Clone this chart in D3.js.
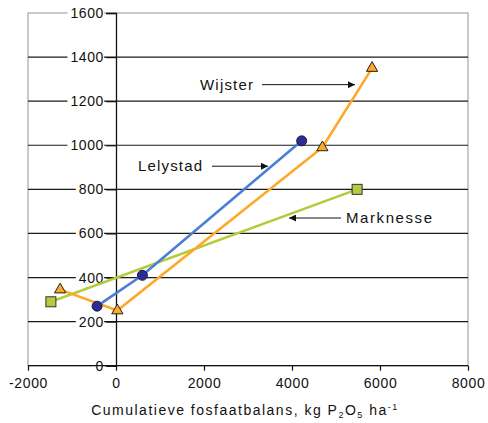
<!DOCTYPE html>
<html><head><meta charset="utf-8">
<script src="https://cdn.jsdelivr.net/npm/d3@7"></script>
<style>
html,body{margin:0;padding:0;background:#fff;}
svg{display:block;font-family:"Liberation Sans",Arial,sans-serif;}
</style></head>
<body><svg id="c" width="488" height="423"></svg>
<script>
// ---- data ----
const xTicks = [-2000, 0, 2000, 4000, 6000, 8000];
const yTicks = [0, 200, 400, 600, 800, 1000, 1200, 1400, 1600];
const lelystadX = [-430, 600, 4220];
const lelystadY = [270, 410, 1020];
const wijsterX = [-1270, 30, 4690, 5820];
const wijsterY = [345, 250, 990, 1350];
const marknesseX = [-1480, 5480];
const marknesseY = [290, 800];
const seriesNames = ["Lelystad", "Wijster", "Marknesse"];
// annotations (data coords): label text range and arrow from/to
const annotNames = ["Wijster", "Lelystad", "Marknesse"];
const annotTextX0 = [1909, 500, 5227];
const annotTextX1 = [3114, 1955, 7182];
const annotY = [1275, 905, 670];
const arrowFromX = [3318, 2182, 5114];
const arrowToX = [5432, 3455, 3932];

const svg = d3.select("#c");
const x = d3.scaleLinear().domain([-2000, 8000]).range([28, 468]);
const y = d3.scaleLinear().domain([0, 1600]).range([365.7, 13]);

// border (grey)
svg.append("rect").attr("x", x(-2000)).attr("y", y(1600))
  .attr("width", x(8000) - x(-2000)).attr("height", y(0) - y(1600))
  .attr("fill", "none").attr("stroke", "#a8a4a0").attr("stroke-width", 1.2);

// gridlines
svg.append("g").selectAll("line").data(yTicks.filter(d => d > 0 && d < 1600)).join("line")
  .attr("x1", x(-2000)).attr("x2", x(8000))
  .attr("y1", d => y(d)).attr("y2", d => y(d))
  .attr("stroke", "#1a1a1a").attr("stroke-width", 1.2);

// y axis at x=0
const yAxis = d3.axisLeft(y).tickValues(yTicks).tickSize(10).tickPadding(2).tickFormat(d => String(d));
const yg = svg.append("g").attr("transform", `translate(${x(0)},0)`).call(yAxis);
yg.select(".domain").attr("stroke", "#111").attr("stroke-width", 1.3);
yg.selectAll(".tick line").attr("stroke", "#111").attr("stroke-width", 1.2);
yg.selectAll(".tick text").attr("font-size", 14).attr("fill", "#111")
  .attr("font-family", "Liberation Sans, Arial, sans-serif").style("letter-spacing", "0.6px");
// white background behind y labels
yg.selectAll(".tick").each(function() {
  const t = d3.select(this).select("text");
  const b = t.node().getBBox();
  d3.select(this).insert("rect", "text")
    .attr("x", b.x - 3).attr("y", b.y + 2).attr("width", b.width + 3).attr("height", b.height - 4)
    .attr("fill", "#fff");
});

// x axis
const xAxis = d3.axisBottom(x).tickValues(xTicks).tickSize(5).tickPadding(7).tickFormat(d => String(d));
const xg = svg.append("g").attr("transform", `translate(0,${y(0)})`).call(xAxis);
xg.select(".domain").attr("stroke", "#111").attr("stroke-width", 1.3).attr("d", `M${x(-2000)},0H${x(8000)}`);
xg.selectAll(".tick line").attr("stroke", "#111").attr("stroke-width", 1.2);
xg.selectAll(".tick text").attr("font-size", 14).attr("fill", "#111")
  .attr("font-family", "Liberation Sans, Arial, sans-serif").style("letter-spacing", "0.6px");

// x axis title
const title = svg.append("text").attr("x", 245).attr("y", 415).attr("text-anchor", "middle")
  .attr("font-size", 14).attr("fill", "#111").style("letter-spacing", "1.5px");
title.append("tspan").text("Cumulatieve fosfaatbalans, kg P");
title.append("tspan").attr("font-size", 9).attr("dy", 3).text("2");
title.append("tspan").attr("dy", -3).text("O");
title.append("tspan").attr("font-size", 9).attr("dy", 3).text("5");
title.append("tspan").attr("dy", -3).text(" ha");
title.append("tspan").attr("font-size", 9).attr("dy", -5).text("-1");

// series
const line = d3.line().x(d => x(d[0])).y(d => y(d[1]));
const lely = lelystadX.map((v, i) => [v, lelystadY[i]]);
const wijs = wijsterX.map((v, i) => [v, wijsterY[i]]);
const mark = marknesseX.map((v, i) => [v, marknesseY[i]]);

svg.append("path").datum(mark).attr("d", line).attr("fill", "none").attr("stroke", "#b4cc3a").attr("stroke-width", 2.6);
svg.append("path").datum(lely).attr("d", line).attr("fill", "none").attr("stroke", "#4a7ed4").attr("stroke-width", 2.6);
svg.append("path").datum(wijs).attr("d", line).attr("fill", "none").attr("stroke", "#ffa726").attr("stroke-width", 2.6);

// markers
svg.append("g").selectAll("rect").data(mark).join("rect")
  .attr("x", d => x(d[0]) - 5).attr("y", d => y(d[1]) - 5).attr("width", 10).attr("height", 10)
  .attr("fill", "#b8c840").attr("stroke", "#333").attr("stroke-width", 1);
svg.append("g").selectAll("circle").data(lely).join("circle")
  .attr("cx", d => x(d[0])).attr("cy", d => y(d[1])).attr("r", 5)
  .attr("fill", "#2b2e90").attr("stroke", "#1a1a50").attr("stroke-width", 1);
const tri = d3.symbol().type(d3.symbolTriangle).size(55);
svg.append("g").selectAll("path").data(wijs).join("path")
  .attr("transform", d => `translate(${x(d[0])},${y(d[1])})`).attr("d", tri)
  .attr("fill", "#ffa726").attr("stroke", "#222").attr("stroke-width", 1);

// annotations
const defs = svg.append("defs");
defs.append("marker").attr("id", "ah").attr("viewBox", "0 0 10 10").attr("refX", 10).attr("refY", 5)
  .attr("markerWidth", 10).attr("markerHeight", 7).attr("markerUnits", "userSpaceOnUse").attr("orient", "auto")
  .append("path").attr("d", "M0,0L10,5L0,10z").attr("fill", "#111");
annotNames.forEach((n, i) => {
  svg.append("text").attr("x", x(annotTextX0[i])).attr("y", y(annotY[i]) + 5)
    .attr("font-size", 15).attr("fill", "#111")
    .attr("textLength", x(annotTextX1[i]) - x(annotTextX0[i])).attr("lengthAdjust", "spacing")
    .text(n);
  svg.append("line").attr("x1", x(arrowFromX[i])).attr("x2", x(arrowToX[i]))
    .attr("y1", y(annotY[i])).attr("y2", y(annotY[i]))
    .attr("stroke", "#111").attr("stroke-width", 1).attr("marker-end", "url(#ah)");
});
</script></body></html>
